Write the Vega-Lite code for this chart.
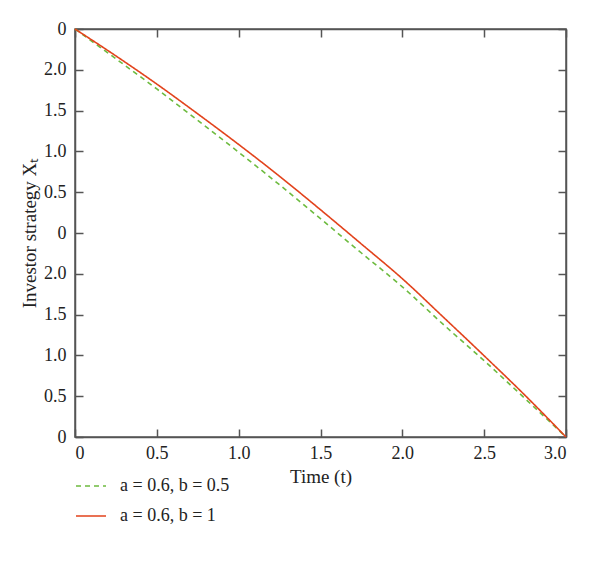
{
  "$schema": "https://vega.github.io/schema/vega-lite/v6.json",
  "width": 491,
  "height": 408,
  "padding": {"left": 20, "top": 20, "right": 25, "bottom": 0},
  "autosize": {"type": "pad"},
  "background": "white",
  "config": {
    "view": {"stroke": "#555555", "strokeWidth": 1.5},
    "font": "Liberation Serif",
    "axis": {"grid": false, "domainColor": "#555555", "tickColor": "#555555", "domainWidth": 1.5, "tickWidth": 1.5, "labelColor": "#222222", "titleColor": "#222222", "labelFont": "Liberation Serif", "titleFont": "Liberation Serif", "labelFontSize": 18, "titleFontSize": 19, "titleFontWeight": "normal"}
  },
  "data": {"values": [
    {"t": 0, "v": 10, "s": "a = 0.6, b = 0.5"},
    {"t": 0.25, "v": 9.27, "s": "a = 0.6, b = 0.5"},
    {"t": 0.5, "v": 8.53, "s": "a = 0.6, b = 0.5"},
    {"t": 0.75, "v": 7.76, "s": "a = 0.6, b = 0.5"},
    {"t": 1.0, "v": 6.98, "s": "a = 0.6, b = 0.5"},
    {"t": 1.25, "v": 6.18, "s": "a = 0.6, b = 0.5"},
    {"t": 1.5, "v": 5.35, "s": "a = 0.6, b = 0.5"},
    {"t": 1.75, "v": 4.51, "s": "a = 0.6, b = 0.5"},
    {"t": 2.0, "v": 3.68, "s": "a = 0.6, b = 0.5"},
    {"t": 2.25, "v": 2.76, "s": "a = 0.6, b = 0.5"},
    {"t": 2.5, "v": 1.87, "s": "a = 0.6, b = 0.5"},
    {"t": 2.75, "v": 0.94, "s": "a = 0.6, b = 0.5"},
    {"t": 3.0, "v": 0, "s": "a = 0.6, b = 0.5"},
    {"t": 0, "v": 10, "s": "a = 0.6, b = 1"},
    {"t": 0.25, "v": 9.34, "s": "a = 0.6, b = 1"},
    {"t": 0.5, "v": 8.65, "s": "a = 0.6, b = 1"},
    {"t": 0.75, "v": 7.92, "s": "a = 0.6, b = 1"},
    {"t": 1.0, "v": 7.17, "s": "a = 0.6, b = 1"},
    {"t": 1.25, "v": 6.39, "s": "a = 0.6, b = 1"},
    {"t": 1.5, "v": 5.57, "s": "a = 0.6, b = 1"},
    {"t": 1.75, "v": 4.73, "s": "a = 0.6, b = 1"},
    {"t": 2.0, "v": 3.88, "s": "a = 0.6, b = 1"},
    {"t": 2.25, "v": 2.94, "s": "a = 0.6, b = 1"},
    {"t": 2.5, "v": 1.99, "s": "a = 0.6, b = 1"},
    {"t": 2.75, "v": 1.02, "s": "a = 0.6, b = 1"},
    {"t": 3.0, "v": 0, "s": "a = 0.6, b = 1"}
  ]},
  "layer": [
    {
      "mark": {"type": "line", "strokeWidth": 1.6, "interpolate": "monotone"},
      "encoding": {
        "x": {"field": "t", "type": "quantitative", "scale": {"domain": [0, 3], "nice": false},
              "axis": {"title": "Time (t)", "values": [0, 0.5, 1, 1.5, 2, 2.5, 3], "tickSize": -8, "labelPadding": 15, "titlePadding": 5, "labelFontSize": 18, "titleFontSize": 19,
                       "labelExpr": "datum.value == 0 ? '0' : format(datum.value, '.1f')"}},
        "y": {"field": "v", "type": "quantitative", "scale": {"domain": [0, 10], "nice": false},
              "axis": {"title": "Investor strategy Xₜ", "values": [0,1,2,3,4,5,6,7,8,9,10], "tickSize": -8, "labelPadding": 17, "titlePadding": 4, "labelFontSize": 18, "titleFontSize": 19,
                       "labelExpr": "datum.value % 5 == 0 ? '0' : format((datum.value % 5) * 0.5, '.1f')"}},
        "color": {"field": "s", "type": "nominal", "scale": {"domain": ["a = 0.6, b = 0.5", "a = 0.6, b = 1"], "range": ["#6dbb3f", "#e2431c"]},
                  "legend": {"title": null, "orient": "none", "legendX": 0, "legendY": 441, "symbolType": "stroke", "symbolSize": 900, "symbolStrokeWidth": 1.6, "labelFont": "Liberation Serif", "labelFontSize": 18, "labelColor": "#222222", "rowPadding": 5, "labelOffset": 13}},
        "strokeDash": {"field": "s", "type": "nominal", "scale": {"domain": ["a = 0.6, b = 0.5", "a = 0.6, b = 1"], "range": [[5, 4], [1, 0]]}, "legend": {"title": null, "orient": "none", "legendX": 0, "legendY": 441, "symbolType": "stroke", "symbolSize": 900}}
      }
    },
    {
      "mark": {"type": "line", "opacity": 0},
      "encoding": {
        "x": {"field": "t", "type": "quantitative", "scale": {"domain": [0, 3], "nice": false},
              "axis": {"orient": "top", "title": null, "labels": false, "values": [0, 0.5, 1, 1.5, 2, 2.5, 3], "tickSize": -8}},
        "y": {"field": "v", "type": "quantitative", "scale": {"domain": [0, 10], "nice": false},
              "axis": {"orient": "right", "title": null, "labels": false, "values": [0,1,2,3,4,5,6,7,8,9,10], "tickSize": -8}},
        "detail": {"field": "s", "type": "nominal"}
      }
    }
  ],
  "resolve": {"axis": {"x": "independent", "y": "independent"}}
}
